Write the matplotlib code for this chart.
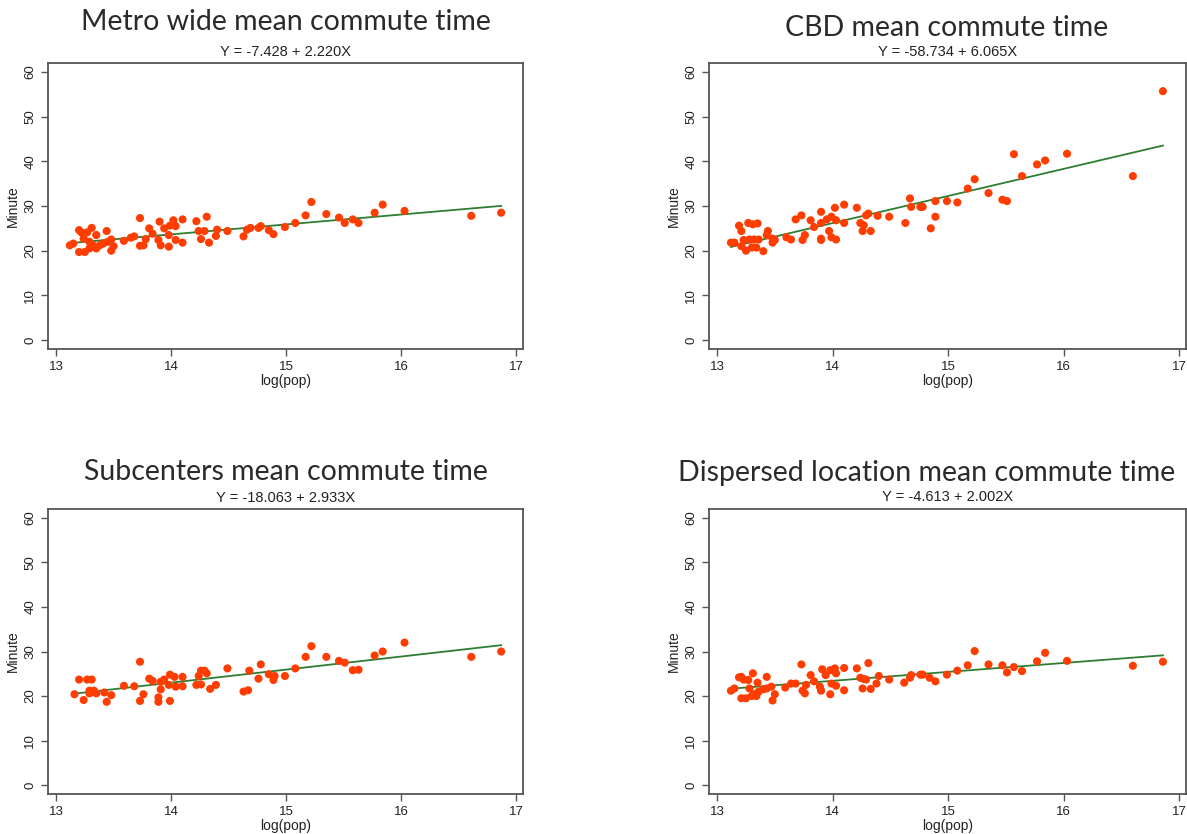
import numpy as np
import matplotlib
matplotlib.use("Agg")
import matplotlib.pyplot as plt

plt.rcParams["font.family"] = ["Liberation Sans", "DejaVu Sans"]

# ---- donnees ----
metro_x = [13.12, 13.15, 13.20, 13.20, 13.22, 13.24, 13.25, 13.27, 13.29, 13.31, 13.29, 13.32,
           13.35, 13.35, 13.38, 13.41, 13.44, 13.45, 13.48, 13.48, 13.50, 13.59, 13.65, 13.68,
           13.73, 13.73, 13.76, 13.78, 13.81, 13.84, 13.89, 13.90, 13.91, 13.94, 13.98, 13.98,
           13.99, 14.02, 14.04, 14.04, 14.10, 14.10, 14.22, 14.24, 14.26, 14.29, 14.31, 14.33,
           14.39, 14.40, 14.49, 14.63, 14.66, 14.69, 14.76, 14.78, 14.85, 14.89, 14.99, 15.08,
           15.17, 15.22, 15.35, 15.46, 15.51, 15.58, 15.63, 15.77, 15.84, 16.03, 16.61, 16.87]
metro_y = [21.2, 21.6, 24.6, 19.7, 24.1, 22.7, 19.7, 24.1, 22.0, 25.1, 20.5, 21.2,
           23.5, 20.5, 21.2, 21.6, 24.4, 22.0, 22.5, 20.0, 21.0, 22.2, 22.9, 23.2,
           27.3, 21.1, 21.2, 22.6, 25.0, 23.8, 22.4, 26.5, 21.2, 25.0, 23.5, 20.9,
           25.6, 26.8, 25.5, 22.4, 27.0, 21.8, 26.6, 24.4, 22.6, 24.4, 27.6, 21.8,
           23.3, 24.7, 24.4, 23.2, 24.7, 25.1, 25.1, 25.5, 24.6, 23.7, 25.3, 26.2,
           27.9, 30.9, 28.2, 27.4, 26.2, 27.0, 26.2, 28.5, 30.3, 28.9, 27.8, 28.5]

cbd_x = [13.12, 13.15, 13.19, 13.21, 13.21, 13.23, 13.25, 13.27, 13.28, 13.30, 13.31, 13.32,
         13.34, 13.35, 13.36, 13.40, 13.43, 13.44, 13.48, 13.48, 13.50, 13.60, 13.64, 13.68,
         13.73, 13.74, 13.76, 13.81, 13.84, 13.90, 13.90, 13.90, 13.90, 13.95, 13.97, 13.99,
         13.99, 14.02, 14.03, 14.03, 14.10, 14.10, 14.21, 14.24, 14.26, 14.27, 14.29, 14.31,
         14.33, 14.39, 14.49, 14.63, 14.67, 14.68, 14.76, 14.78, 14.85, 14.89, 14.89, 14.99,
         15.08, 15.17, 15.23, 15.35, 15.47, 15.51, 15.57, 15.64, 15.77, 15.84, 16.03, 16.60,
         16.86]
cbd_y = [21.8, 21.8, 25.6, 24.4, 21.0, 22.4, 20.0, 26.2, 22.5, 20.7, 25.9, 22.5,
         20.7, 26.1, 22.5, 19.9, 23.5, 24.4, 22.7, 21.8, 22.4, 23.0, 22.5, 27.0,
         27.9, 22.4, 23.5, 26.8, 25.3, 22.7, 22.4, 28.7, 26.2, 27.0, 24.4, 27.6,
         23.0, 29.6, 22.5, 26.8, 26.2, 30.3, 29.6, 26.2, 24.4, 25.7, 27.9, 28.3,
         24.4, 27.8, 27.6, 26.2, 31.7, 29.8, 29.8, 29.8, 25.0, 31.1, 27.6, 31.1,
         30.8, 33.9, 36.0, 32.9, 31.4, 31.1, 41.6, 36.7, 39.3, 40.2, 41.7, 36.7,
         55.7]

sub_x = [13.16, 13.20, 13.24, 13.27, 13.29, 13.31, 13.29, 13.33, 13.35, 13.42, 13.44, 13.48,
         13.59, 13.68, 13.73, 13.73, 13.76, 13.81, 13.84, 13.89, 13.89, 13.91, 13.91, 13.94,
         13.98, 13.99, 13.99, 14.03, 14.04, 14.10, 14.10, 14.22, 14.24, 14.26, 14.26, 14.29,
         14.31, 14.34, 14.39, 14.49, 14.63, 14.67, 14.68, 14.76, 14.78, 14.85, 14.89, 14.90,
         14.99, 15.08, 15.17, 15.22, 15.35, 15.46, 15.51, 15.58, 15.63, 15.77, 15.84, 16.03,
         16.61, 16.87]
sub_y = [20.4, 23.7, 19.1, 23.7, 21.2, 23.7, 20.6, 21.2, 20.6, 20.8, 18.7, 20.2,
         22.3, 22.2, 27.7, 18.9, 20.4, 23.9, 23.4, 19.7, 18.7, 23.2, 21.5, 23.7,
         22.5, 18.9, 24.8, 24.3, 22.1, 24.3, 22.2, 22.5, 24.5, 25.7, 22.6, 25.7,
         25.1, 21.6, 22.5, 26.2, 21.0, 21.3, 25.7, 23.9, 27.1, 24.9, 23.6, 24.5,
         24.5, 26.2, 28.8, 31.2, 28.8, 27.9, 27.5, 25.8, 25.9, 29.1, 30.0, 32.0,
         28.8, 30.0]

disp_x = [13.12, 13.15, 13.19, 13.21, 13.21, 13.23, 13.25, 13.27, 13.28, 13.30, 13.31, 13.32,
          13.34, 13.35, 13.36, 13.40, 13.43, 13.43, 13.47, 13.48, 13.50, 13.59, 13.64, 13.68,
          13.73, 13.74, 13.76, 13.77, 13.81, 13.84, 13.89, 13.90, 13.91, 13.94, 13.98, 13.98,
          13.99, 14.02, 14.03, 14.03, 14.10, 14.10, 14.21, 14.24, 14.26, 14.27, 14.29, 14.31,
          14.33, 14.38, 14.40, 14.49, 14.62, 14.67, 14.68, 14.76, 14.78, 14.84, 14.89, 14.99,
          15.08, 15.17, 15.23, 15.35, 15.47, 15.51, 15.57, 15.64, 15.77, 15.84, 16.03, 16.60,
          16.86]
disp_y = [21.2, 21.7, 24.2, 24.3, 19.5, 23.7, 19.5, 23.6, 21.7, 20.0, 25.1, 20.4,
          20.0, 23.0, 21.0, 21.5, 24.3, 21.7, 22.1, 19.0, 20.4, 21.9, 22.8, 22.8,
          27.1, 21.2, 20.6, 22.5, 24.7, 23.3, 22.1, 21.2, 26.0, 24.7, 25.8, 20.4,
          22.8, 26.2, 25.1, 22.3, 26.3, 21.3, 26.2, 24.1, 21.7, 23.8, 23.7, 27.4,
          21.6, 22.8, 24.5, 23.7, 23.0, 24.1, 24.7, 24.8, 24.8, 24.1, 23.3, 24.8,
          25.7, 26.9, 30.1, 27.1, 26.9, 25.3, 26.5, 25.6, 27.8, 29.7, 27.9, 26.8,
          27.7]

titles = ["Metro wide mean commute time", "CBD mean commute time",
          "Subcenters mean commute time", "Dispersed location mean commute time"]
intercepts = [-7.428, -58.734, -18.063, -4.613]
slopes = [2.220, 6.065, 2.933, 2.002]
eq_labels = ["Y = -7.428 + 2.220X", "Y = -58.734 + 6.065X",
             "Y = -18.063 + 2.933X", "Y = -4.613 + 2.002X"]

xs_all = [metro_x, cbd_x, sub_x, disp_x]
ys_all = [metro_y, cbd_y, sub_y, disp_y]

W, H = 1187, 834
fig = plt.figure(figsize=(W / 100, H / 100), dpi=100)

# boites des axes en pixels : (gauche, haut, droite, bas)
boxes = [(48, 63, 523, 349), (709, 63, 1186, 349),
         (48, 509, 523, 794), (709, 509, 1186, 794)]
title_x = [286, 947, 286, 927]
title_y = [22, 28, 472, 473]
sub_y_px = [52, 52, 498, 497]

frame_col = "#555555"
dot_col = "#ff3d00"
line_col = "#2e7d32"

for i in range(4):
    l, t, r, b = boxes[i]
    ax = fig.add_axes([l / W, 1 - b / H, (r - l) / W, (b - t) / H])
    ax.scatter(xs_all[i], ys_all[i], s=34, color=dot_col, edgecolors="none", zorder=3)
    xl = np.array([min(xs_all[i]), max(xs_all[i])])
    ax.plot(xl, intercepts[i] + slopes[i] * xl, color=line_col, linewidth=1.3, zorder=2)

    ax.set_xlim(12.93, 17.06)
    ax.set_ylim(-2, 62)
    ax.set_xticks([13, 14, 15, 16, 17])
    ax.set_yticks([0, 10, 20, 30, 40, 50, 60])
    ax.tick_params(axis="both", direction="out", length=5, width=1.0,
                   color=frame_col, labelsize=9.5, labelcolor="#222222")
    for lab in ax.get_yticklabels():
        lab.set_rotation(90)
        lab.set_va("center")
    for sp in ax.spines.values():
        sp.set_color(frame_col)
        sp.set_linewidth(1.3)
    ax.set_xlabel("log(pop)", fontsize=10, labelpad=1, color="#222222")
    ax.set_ylabel("Minute", fontsize=10, labelpad=3, color="#222222")

    cx = (l + r) / 2 / W
    fig.text(title_x[i] / W, 1 - title_y[i] / H, titles[i], ha="center", va="center",
             fontsize=20.5, family="Lato", color="#2a2a2a")
    fig.text(cx, 1 - sub_y_px[i] / H, eq_labels[i], ha="center", va="center",
             fontsize=10.5, family="Liberation Sans", color="#222222")

fig.savefig("out.png", dpi=100)
